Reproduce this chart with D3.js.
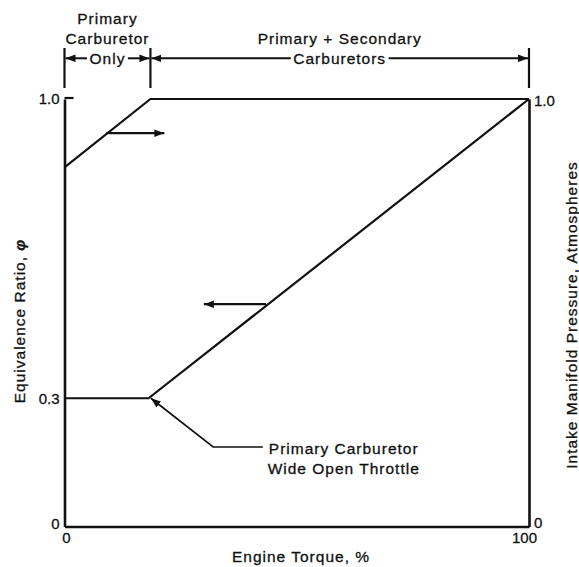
<!DOCTYPE html>
<html>
<head>
<meta charset="utf-8">
<script src="https://cdn.jsdelivr.net/npm/d3@7"></script>
<style>
  body { margin: 0; background: #fff; }
  svg text { font-family: "Liberation Sans", Arial, Helvetica, sans-serif; fill: #111; stroke: #111; stroke-width: 0.3px; }
</style>
</head>
<body>
<svg id="chart" width="579" height="567"></svg>
<script>
// Engine torque (%) breakpoints for the two operating curves
const pressureTorque = [0, 18.5, 100];
const pressure = [0.84, 1.0, 1.0];          // intake manifold pressure, atm (right axis)
const equivalenceTorque = [0, 18.1, 100];
const equivalence = [0.3, 0.3, 1.0];        // equivalence ratio φ (left axis)

// axis ticks
const xTicks = [0, 100];
const leftTicks = [0, 0.3, 1.0];
const leftTickLabels = ["0", "0.3", "1.0"];
const rightTicks = [0, 1.0];
const rightTickLabels = ["0", "1.0"];

// operating regions along the torque axis
const regionBounds = [0, 18.5, 100];
const regionTitles = [["Primary", "Carburetor"], ["Primary + Secondary"]];
const regionInline = ["Only", "Carburetors"];

// arrows telling which axis each curve reads against
const pressureArrow = { value: 0.92, from: 9.0, to: 21.5 };
const equivalenceArrow = { value: 0.52, from: 43.4, to: 30 };

// callout to the wide-open-throttle point
const calloutPoint = { torque: 18.6, value: 0.3 };
const calloutElbow = { torque: 32, value: 0.186 };
const calloutEnd = 42.7;
const calloutText = ["Primary Carburetor", "Wide Open Throttle"];

const svg = d3.select("#chart");
const ink = "#111";

const x = d3.scaleLinear().domain([0, 100]).range([64.5, 529]);
const yLeft = d3.scaleLinear().domain([0, 1]).range([526.5, 99]);
const yRight = d3.scaleLinear().domain([0, 1]).range([526.5, 99]);

// arrowhead
svg.append("defs").append("marker")
  .attr("id", "head")
  .attr("viewBox", "0 -4 10 8")
  .attr("refX", 10).attr("refY", 0)
  .attr("markerWidth", 10).attr("markerHeight", 8)
  .attr("markerUnits", "userSpaceOnUse")
  .attr("orient", "auto-start-reverse")
  .append("path").attr("d", "M0,-3.8L10,0L0,3.8Z").attr("fill", ink);

// axes
const styleAxis = g => {
  g.attr("font-family", null);
  g.select(".domain").attr("stroke", ink).attr("stroke-width", 2.6);
  g.selectAll(".tick line").remove();
  g.selectAll("text").attr("font-size", 15).attr("fill", ink);
};

svg.append("g").attr("transform", `translate(0,${yLeft(0)})`)
  .call(d3.axisBottom(x).tickValues(xTicks).tickFormat(d3.format("d"))
    .tickSizeInner(0).tickSizeOuter(0).tickPadding(6))
  .call(styleAxis)
  .call(g => g.selectAll("text").attr("dx", d => d === 100 ? -5 : 1.5));

svg.append("g").attr("transform", `translate(${x(0)},0)`)
  .call(d3.axisLeft(yLeft).tickValues(leftTicks)
    .tickFormat((d, i) => leftTickLabels[i])
    .tickSizeInner(0).tickSizeOuter(0).tickPadding(5))
  .call(styleAxis)
  .call(g => g.selectAll("text").attr("y", d => d === 0 ? -2.5 : 0));

svg.append("g").attr("transform", `translate(${x(100)},0)`)
  .call(d3.axisRight(yRight).tickValues(rightTicks)
    .tickFormat((d, i) => rightTickLabels[i])
    .tickSizeInner(0).tickSizeOuter(0).tickPadding(5))
  .call(styleAxis)
  .call(g => g.selectAll("text").attr("y", d => d === 0 ? -4 : 1.5));

// short inward tick at the top of the left axis
svg.append("line")
  .attr("x1", x(0)).attr("x2", x(0) + 9)
  .attr("y1", yLeft(1) - 1).attr("y2", yLeft(1) - 1)
  .attr("stroke", ink).attr("stroke-width", 2.2);

// curves
const pressureLine = d3.line().x(d => x(d[0])).y(d => yRight(d[1]));
const equivalenceLine = d3.line().x(d => x(d[0])).y(d => yLeft(d[1]));

svg.append("path")
  .datum(pressureTorque.map((t, i) => [t, pressure[i]]))
  .attr("d", pressureLine)
  .attr("fill", "none").attr("stroke", ink).attr("stroke-width", 2.2);

svg.append("path")
  .datum(equivalenceTorque.map((t, i) => [t, equivalence[i]]))
  .attr("d", equivalenceLine)
  .attr("fill", "none").attr("stroke", ink).attr("stroke-width", 2.2);

// axis-direction arrows
svg.append("line")
  .attr("x1", x(pressureArrow.from)).attr("x2", x(pressureArrow.to))
  .attr("y1", yRight(pressureArrow.value)).attr("y2", yRight(pressureArrow.value))
  .attr("stroke", ink).attr("stroke-width", 2.2).attr("marker-end", "url(#head)");

svg.append("line")
  .attr("x1", x(equivalenceArrow.from)).attr("x2", x(equivalenceArrow.to))
  .attr("y1", yLeft(equivalenceArrow.value)).attr("y2", yLeft(equivalenceArrow.value))
  .attr("stroke", ink).attr("stroke-width", 2.2).attr("marker-end", "url(#head)");

// callout
const calloutY = yLeft(calloutElbow.value);
svg.append("path")
  .attr("d", d3.line()([
    [x(calloutEnd), calloutY],
    [x(calloutElbow.torque), calloutY],
    [x(calloutPoint.torque), yLeft(calloutPoint.value)]
  ]))
  .attr("fill", "none").attr("stroke", ink).attr("stroke-width", 1.7)
  .attr("marker-end", "url(#head)");

const labelFont = g => g.attr("font-size", 15.5).attr("letter-spacing", 1);

const callout = svg.append("g").call(labelFont);
const firstLine = callout.append("text")
  .attr("x", x(calloutEnd) + 6).attr("y", calloutY + 6.8)
  .text(calloutText[0]);
const firstWidth = firstLine.node().getComputedTextLength();
const calloutCenter = x(calloutEnd) + 6 + firstWidth / 2;
firstLine.attr("x", calloutCenter).attr("text-anchor", "middle");
callout.append("text")
  .attr("x", calloutCenter).attr("y", calloutY + 27.4)
  .attr("text-anchor", "middle")
  .text(calloutText[1]);

// region dimension lines across the top
const dimY = 58.3;
const regions = svg.append("g").call(labelFont);

regionBounds.forEach(b => {
  regions.append("line")
    .attr("x1", x(b)).attr("x2", x(b))
    .attr("y1", 48).attr("y2", 88)
    .attr("stroke", ink).attr("stroke-width", 2.2);
});

regionInline.forEach((label, i) => {
  const x0 = x(regionBounds[i]);
  const x1 = x(regionBounds[i + 1]);
  const cx = (x0 + x1) / 2;
  const t = regions.append("text")
    .attr("x", cx).attr("y", dimY + 5.3)
    .attr("text-anchor", "middle")
    .text(label);
  const half = t.node().getComputedTextLength() / 2;
  regions.append("line")
    .attr("x1", cx - half - 2.5).attr("x2", x0 + 1)
    .attr("y1", dimY).attr("y2", dimY)
    .attr("stroke", ink).attr("stroke-width", 2)
    .attr("marker-end", "url(#head)");
  regions.append("line")
    .attr("x1", cx + half + 2.5).attr("x2", x1 - 1)
    .attr("y1", dimY).attr("y2", dimY)
    .attr("stroke", ink).attr("stroke-width", 2)
    .attr("marker-end", "url(#head)");

  const lines = regionTitles[i];
  lines.forEach((line, j) => {
    regions.append("text")
      .attr("x", cx).attr("y", dimY + 5.3 - 19.7 * (lines.length - j))
      .attr("text-anchor", "middle")
      .text(line);
  });
});

// axis titles
const titles = svg.append("g").call(labelFont);
titles.append("text")
  .attr("x", 301).attr("y", 562)
  .attr("text-anchor", "middle")
  .text("Engine Torque, %");

const leftTitle = titles.append("text")
  .attr("transform", "translate(24.5,321) rotate(-90)")
  .attr("text-anchor", "middle");
leftTitle.append("tspan").text("Equivalence Ratio, ");
leftTitle.append("tspan").attr("font-style", "italic").attr("font-weight", "bold").text("φ");

titles.append("text")
  .attr("transform", "translate(577,315) rotate(-90)")
  .attr("text-anchor", "middle")
  .text("Intake Manifold Pressure, Atmospheres");
</script>
</body>
</html>
